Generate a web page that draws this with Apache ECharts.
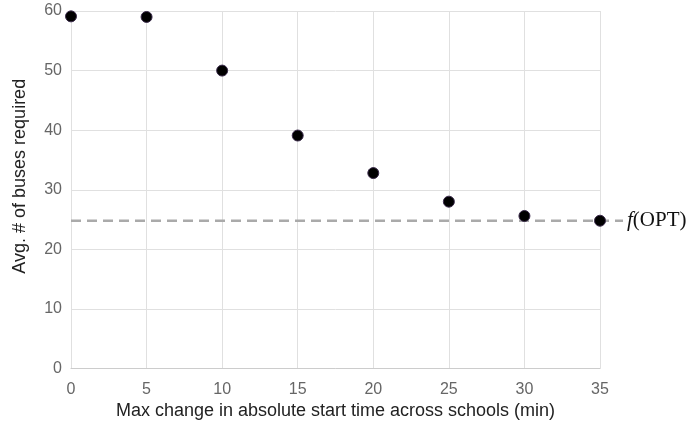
<!DOCTYPE html>
<html><head><meta charset="utf-8">
<script src="https://cdn.jsdelivr.net/npm/echarts@6/dist/echarts.min.js"></script>
<style>html,body{margin:0;padding:0;background:#fff}#c{width:691px;height:429px}</style>
</head><body><div id="c"></div>
<script>
const xValues = [0, 5, 10, 15, 20, 25, 30, 35];
const busesRequired = [59.1, 59.0, 50.0, 39.1, 32.8, 28.0, 25.6, 24.8];
const optValue = 24.8;
const optLineX = [0, 36.5];
const xAxisName = 'Max change in absolute start time across schools (min)';
const yAxisName = 'Avg. # of buses required';

const chart = echarts.init(document.getElementById('c'));
const font = 'Liberation Sans, Arial, sans-serif';
chart.setOption({
  animation: false,
  grid: [
    {left: 71, right: 91, top: 11, bottom: 60.5},
    {left: 71, right: 68, top: 11, bottom: 60.5}
  ],
  xAxis: [
    {type: 'value', gridIndex: 0, min: 0, max: 35, interval: 5,
     name: xAxisName, nameLocation: 'middle', nameGap: 34,
     nameTextStyle: {fontFamily: font, fontSize: 18, color: '#222'},
     axisLine: {lineStyle: {color: '#ccc'}}, axisTick: {show: false},
     axisLabel: {fontFamily: font, fontSize: 16, color: '#666', margin: 13},
     splitLine: {show: true, lineStyle: {color: '#e0e0e0'}}},
    {type: 'value', gridIndex: 1, min: 0, max: optLineX[1], show: false}
  ],
  yAxis: [
    {type: 'value', gridIndex: 0, min: 0, max: 60, interval: 10,
     name: yAxisName, nameLocation: 'middle', nameGap: 42,
     nameTextStyle: {fontFamily: font, fontSize: 18, color: '#222', padding: [0, 0, 0, 27]},
     axisLine: {show: false}, axisTick: {show: false},
     axisLabel: {fontFamily: font, fontSize: 16, color: '#666', margin: 9},
     splitLine: {show: true, lineStyle: {color: '#e0e0e0'}}},
    {type: 'value', gridIndex: 1, min: 0, max: 60, show: false}
  ],
  series: [
    {type: 'line', xAxisIndex: 1, yAxisIndex: 1,
     data: optLineX.map(x => [x, optValue]), showSymbol: false, symbol: 'none',
     lineStyle: {color: '#aaa', width: 2.5, type: [10, 6]},
     endLabel: {show: true, distance: 4, formatter: '{i|f}{n|(OPT)}',
       rich: {i: {fontFamily: 'Liberation Serif, serif', fontStyle: 'italic', fontSize: 21, color: '#111'},
              n: {fontFamily: 'Liberation Serif, serif', fontSize: 21, color: '#111'}}},
     z: 1},
    {type: 'scatter', xAxisIndex: 0, yAxisIndex: 0,
     data: xValues.map((x, i) => [x, busesRequired[i]]),
     symbolSize: 11,
     itemStyle: {color: '#000', borderColor: '#3a2a4a', borderWidth: 1, opacity: 1},
     z: 3}
  ]
});
</script></body></html>
